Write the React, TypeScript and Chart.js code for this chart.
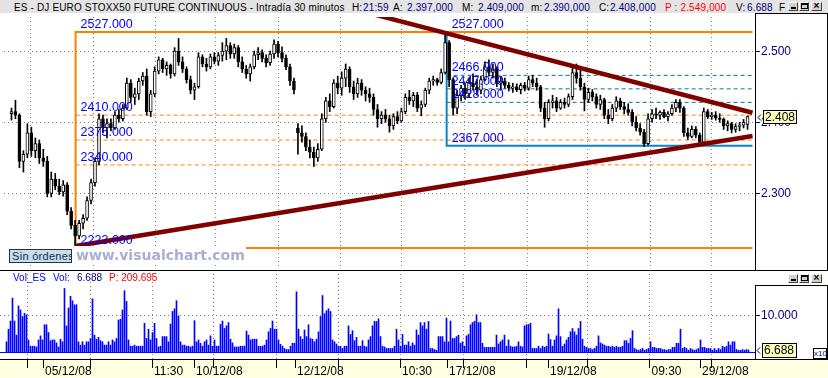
import React, { useEffect, useRef } from "react";
import { Chart, registerables } from "chart.js";

Chart.register(...registerables);

// ---------- DATA ----------
// 30-minute candles (one per two volume bars)
const opens = [
  2412, 2415, 2410, 2345, 2355, 2385, 2360, 2370, 2350, 2345,
  2300, 2320, 2310, 2302, 2312, 2275, 2255, 2240, 2258, 2265,
  2290, 2315, 2345, 2405, 2392, 2398, 2392, 2410, 2405, 2420,
  2455, 2435, 2440, 2458, 2465, 2415, 2440, 2472, 2488, 2475,
  2480, 2468, 2500, 2485, 2475, 2460, 2445, 2450, 2492, 2482,
  2478, 2492, 2486, 2494, 2500, 2508, 2496, 2505, 2485, 2475,
  2468, 2478, 2495, 2498, 2490, 2484, 2496, 2510, 2498, 2490,
  2478, 2458, 2392, 2385, 2380, 2365, 2358, 2350, 2362, 2405,
  2430, 2422, 2455, 2448, 2462, 2475, 2450, 2440, 2455, 2445,
  2440, 2435, 2418, 2405, 2410, 2405, 2395, 2408, 2402, 2415,
  2435, 2430, 2438, 2420, 2425, 2445, 2458, 2460, 2456, 2470,
  2512, 2460, 2420, 2438, 2448, 2440, 2455, 2450, 2445, 2460,
  2478, 2470, 2475, 2455, 2458, 2452, 2448, 2450, 2446, 2452,
  2448, 2460, 2455, 2450, 2420, 2405, 2428, 2430, 2420, 2428,
  2425, 2436, 2470, 2462, 2450, 2432, 2442, 2436, 2425, 2432,
  2410, 2405, 2420, 2430, 2422, 2418, 2414, 2400, 2392, 2386,
  2370, 2405, 2412, 2410, 2414, 2408, 2412, 2420, 2428, 2420,
  2385, 2380, 2390, 2382, 2372, 2415, 2408, 2410, 2406, 2404,
  2395, 2398, 2390, 2394, 2396, 2397,
];
const highs = [
  2420, 2431, 2412, 2360, 2398, 2393, 2378, 2375, 2362, 2352,
  2330, 2328, 2320, 2318, 2315, 2280, 2262, 2262, 2270, 2295,
  2320, 2350, 2412, 2410, 2405, 2405, 2415, 2418, 2425, 2462,
  2460, 2448, 2462, 2470, 2475, 2445, 2478, 2492, 2490, 2485,
  2482, 2505, 2518, 2492, 2478, 2465, 2455, 2498, 2495, 2490,
  2496, 2498, 2498, 2512, 2518, 2512, 2510, 2508, 2492, 2480,
  2482, 2500, 2505, 2502, 2495, 2500, 2516, 2514, 2506, 2495,
  2482, 2462, 2398, 2395, 2385, 2375, 2365, 2370, 2412, 2435,
  2440, 2460, 2465, 2471, 2482, 2478, 2458, 2462, 2460, 2450,
  2448, 2440, 2425, 2415, 2418, 2410, 2412, 2415, 2420, 2440,
  2445, 2442, 2442, 2430, 2448, 2462, 2465, 2462, 2475, 2527,
  2515, 2462, 2445, 2452, 2455, 2462, 2468, 2460, 2465, 2485,
  2488, 2482, 2478, 2465, 2462, 2456, 2455, 2454, 2455, 2456,
  2465, 2466, 2462, 2452, 2428, 2432, 2438, 2435, 2432, 2434,
  2440, 2478, 2482, 2476, 2455, 2448, 2446, 2440, 2438, 2434,
  2418, 2425, 2436, 2434, 2428, 2426, 2418, 2408, 2398, 2390,
  2412, 2418, 2420, 2416, 2418, 2415, 2425, 2432, 2432, 2422,
  2392, 2395, 2394, 2385, 2420, 2418, 2414, 2415, 2412, 2406,
  2402, 2400, 2398, 2400, 2404, 2409,
];
const lows = [
  2403, 2405, 2336, 2330, 2350, 2352, 2350, 2342, 2338, 2295,
  2295, 2305, 2298, 2296, 2270, 2250, 2223, 2236, 2250, 2262,
  2285, 2310, 2340, 2385, 2378, 2388, 2390, 2400, 2402, 2418,
  2428, 2425, 2432, 2452, 2410, 2408, 2436, 2468, 2470, 2466,
  2462, 2465, 2480, 2470, 2455, 2440, 2432, 2448, 2478, 2472,
  2475, 2482, 2480, 2486, 2488, 2490, 2490, 2478, 2470, 2462,
  2458, 2475, 2488, 2485, 2478, 2480, 2490, 2492, 2485, 2474,
  2452, 2440, 2355, 2372, 2360, 2350, 2338, 2345, 2360, 2400,
  2415, 2420, 2440, 2438, 2450, 2442, 2432, 2435, 2438, 2430,
  2428, 2410, 2393, 2398, 2400, 2386, 2390, 2398, 2400, 2412,
  2425, 2422, 2415, 2409, 2422, 2440, 2452, 2452, 2454, 2468,
  2450, 2410, 2412, 2430, 2432, 2435, 2445, 2438, 2440, 2458,
  2465, 2462, 2450, 2445, 2448, 2444, 2442, 2443, 2440, 2444,
  2445, 2450, 2445, 2415, 2393, 2402, 2420, 2415, 2418, 2420,
  2422, 2432, 2455, 2445, 2416, 2428, 2430, 2420, 2418, 2405,
  2398, 2402, 2415, 2418, 2412, 2410, 2395, 2388, 2382, 2366,
  2368, 2400, 2405, 2404, 2406, 2402, 2410, 2415, 2414, 2380,
  2376, 2378, 2378, 2368, 2370, 2405, 2404, 2403, 2400, 2390,
  2388, 2385, 2386, 2388, 2392, 2390,
];
const closes = [
  2415, 2410, 2345, 2355, 2385, 2360, 2370, 2350, 2345, 2300,
  2320, 2310, 2302, 2312, 2275, 2255, 2240, 2258, 2265, 2290,
  2315, 2345, 2405, 2392, 2398, 2392, 2410, 2405, 2420, 2455,
  2435, 2440, 2458, 2465, 2415, 2440, 2472, 2488, 2475, 2480,
  2468, 2500, 2485, 2475, 2460, 2445, 2450, 2492, 2482, 2478,
  2492, 2486, 2494, 2500, 2508, 2496, 2505, 2485, 2475, 2468,
  2478, 2495, 2498, 2490, 2484, 2496, 2510, 2498, 2490, 2478,
  2458, 2446, 2385, 2380, 2365, 2358, 2350, 2362, 2405, 2430,
  2422, 2455, 2448, 2462, 2475, 2450, 2440, 2455, 2445, 2440,
  2435, 2418, 2405, 2410, 2405, 2395, 2408, 2402, 2415, 2435,
  2430, 2438, 2420, 2425, 2445, 2458, 2460, 2456, 2470, 2512,
  2460, 2420, 2438, 2448, 2440, 2455, 2450, 2445, 2460, 2478,
  2470, 2475, 2455, 2458, 2452, 2448, 2450, 2446, 2452, 2448,
  2460, 2455, 2450, 2420, 2405, 2428, 2430, 2420, 2428, 2425,
  2436, 2470, 2462, 2450, 2432, 2442, 2436, 2425, 2432, 2410,
  2405, 2420, 2430, 2422, 2418, 2414, 2400, 2392, 2386, 2370,
  2405, 2412, 2410, 2414, 2408, 2412, 2420, 2428, 2420, 2385,
  2380, 2390, 2382, 2372, 2415, 2408, 2410, 2406, 2404, 2395,
  2398, 2390, 2394, 2396, 2400, 2408,
];
// volume per bar, in units of 10.000 contracts (axis shows x10)
const volumes = [
  2.9, 6.3, 8.5, 14.7, 8.5, 4.7, 12.6, 11.5, 9.7, 10.6,
  10.2, 3.4, 1.7, 1.7, 1.7, 1.5, 3.4, 4.5, 3.4, 7.5,
  7.5, 5.4, 3.2, 3.4, 3.4, 2.6, 1.5, 3.6, 2.9, 17.3,
  7.2, 12.0, 15.2, 14.0, 12.9, 12.9, 2.9, 2.0, 2.9, 2.0,
  2.9, 2.9, 3.8, 14.5, 4.7, 3.6, 4.1, 3.2, 2.9, 2.0,
  2.0, 2.9, 2.0, 3.4, 2.9, 3.8, 8.8, 9.0, 11.5, 16.7,
  13.8, 3.4, 1.7, 1.7, 2.0, 1.7, 1.7, 1.7, 1.7, 7.9,
  3.8, 6.3, 3.4, 5.4, 7.9, 3.8, 1.5, 1.7, 4.3, 4.3,
  4.3, 2.9, 7.7, 11.1, 11.8, 14.0, 9.9, 2.9, 2.0, 2.0,
  1.7, 1.7, 1.5, 1.7, 8.6, 2.9, 3.4, 2.5, 1.7, 2.9,
  3.4, 2.0, 4.5, 1.7, 3.4, 1.7, 1.7, 7.6, 8.5, 6.5,
  7.2, 8.1, 3.6, 2.6, 1.5, 1.5, 1.5, 1.7, 1.7, 1.7,
  5.8, 4.7, 3.4, 3.6, 3.6, 3.6, 1.7, 1.7, 1.7, 2.0,
  3.4, 5.6, 6.5, 8.5, 6.3, 6.3, 3.4, 2.2, 1.7, 1.1,
  0.8, 0.8, 1.7, 2.5, 2.5, 16.4, 6.3, 4.3, 3.6, 6.1,
  4.3, 7.5, 3.8, 3.6, 2.9, 3.6, 5.6, 9.7, 15.4, 10.5,
  11.3, 11.8, 11.1, 3.4, 2.9, 2.3, 1.7, 1.7, 1.1, 1.7,
  1.7, 7.2, 4.9, 5.9, 3.2, 4.1, 1.7, 1.7, 3.2, 1.7,
  1.5, 3.4, 4.3, 7.2, 8.4, 8.4, 9.1, 4.3, 1.7, 1.5,
  1.1, 1.1, 1.1, 1.1, 1.7, 6.3, 3.4, 1.7, 4.9, 2.0,
  2.0, 2.9, 1.7, 2.6, 2.0, 6.1, 4.7, 8.1, 7.2, 8.1,
  6.3, 8.4, 1.1, 1.1, 0.8, 0.6, 4.3, 4.3, 4.3, 2.9,
  9.3, 2.9, 8.5, 3.8, 3.8, 4.3, 4.7, 2.5, 2.9, 1.7,
  4.5, 4.9, 7.5, 8.1, 8.4, 10.2, 8.1, 8.1, 2.5, 1.4,
  1.4, 1.4, 1.4, 1.4, 1.4, 4.7, 2.3, 2.9, 3.4, 4.7,
  1.7, 3.4, 1.7, 1.5, 1.5, 1.7, 2.9, 1.7, 1.5, 7.2,
  7.5, 7.6, 7.9, 1.1, 1.1, 1.1, 1.7, 1.1, 1.7, 1.4,
  1.7, 5.0, 3.5, 1.7, 3.4, 4.5, 11.8, 4.3, 1.7, 2.3,
  3.4, 4.1, 5.6, 6.5, 5.6, 4.7, 6.5, 8.4, 3.6, 1.7,
  1.4, 1.1, 1.1, 0.8, 1.1, 1.7, 4.5, 2.6, 2.3, 2.0,
  1.7, 1.7, 1.5, 1.7, 1.4, 1.7, 1.4, 1.4, 1.7, 3.2,
  3.2, 2.5, 3.8, 5.9, 1.1, 0.8, 0.6, 0.8, 1.1, 0.6,
  0.8, 1.1, 2.9, 1.4, 1.4, 1.1, 1.1, 1.1, 0.8, 0.8,
  0.6, 0.8, 0.8, 1.4, 1.4, 2.5, 2.5, 6.3, 1.1, 1.4,
  1.1, 0.6, 1.1, 0.8, 0.6, 0.8, 1.1, 3.4, 1.4, 1.4,
  1.1, 1.1, 1.1, 0.6, 1.1, 0.6, 1.1, 0.8, 1.7, 1.4,
  1.7, 2.9, 2.0, 2.9, 2.9, 0.8, 0.6, 0.6, 0.8, 0.6,
  0.8, 0.6688,
];

const priceTicks = [2300, 2400, 2500];
const volumeTicks = [10];
// x positions in bar-index units
const gridJ = [10.25, 41.75, 72.75, 103.25, 134.75, 165.75, 196.75, 228.25, 259.75, 290.25, 321.5, 352.5];
const daySepJ = [18.25, 93.75, 144.25, 220.25, 270.75, 346.75];
const xLabelJ = [18.25, 72.75, 93.75, 144.25, 196.75, 220.25, 270.75, 321.5, 346.75];
const xLabels = ["05/12/08", "11:30", "10/12/08", "12/12/08", "10:30", "17/12/08", "19/12/08", "09:30", "29/12/08"];

// drawing objects (Fibonacci boxes, trend lines)
const orangeBoxJ = [32.75, 373];
const orangeLevels = [2527, 2410, 2375, 2340, 2223];
const tealBoxJ = [219.25, 373];
const tealLevels = [2527, 2466, 2447, 2428, 2367];
const trendLowJ = [32.75, 373];
const trendLowV = [2226, 2380.7];
const trendHighJ = [180, 373];
const trendHighV = [2553.7, 2413.4];
const markerJ = [0.25, 32.75];
const markerV = [2207, 2223];

const X_MIN = -3.25;
const X_MAX = 374.25;
const P_MIN = 2197.8;
const P_MAX = 2548.1;
const V_MIN = -1.757;
const V_MAX = 22.297;

// ---------- STYLE ----------
const SANS = "'Liberation Sans', Arial, Helvetica, sans-serif";
const LABEL_FONT = "12.5px 'Liberation Sans Narrow', 'Liberation Sans', sans-serif";
const NAVY = "#000080";
const GRAY = "#808080";
const ORANGE = "#ff8000";
const TEAL = "#0a84c6";
const TEAL_DASH = "#1070a0";
const DARK_RED = "#800000";

function lineSet(pts: any[], color: string, width: number, dash: number[], order: number) {
  return {
    type: "line",
    data: pts,
    borderColor: color,
    borderWidth: width,
    borderDash: dash,
    borderCapStyle: "butt",
    pointRadius: 0,
    pointHoverRadius: 0,
    fill: false,
    tension: 0,
    order,
  };
}

const pricePlugin = {
  id: "priceDecor",
  afterDatasetsDraw(chart: any) {
    const { ctx } = chart;
    const xs = chart.scales.x;
    const ys = chart.scales.y;
    ctx.save();
    // watermark
    ctx.fillStyle = "#ffffff";
    ctx.fillRect(74, 233, 172, 17);
    ctx.font = "bold 14px 'DejaVu Sans', Verdana, sans-serif";
    ctx.fillStyle = "#a9aed6";
    ctx.textAlign = "left";
    ctx.textBaseline = "alphabetic";
    ctx.fillText("www.visualchart.com", 76, 247);
    // level labels
    ctx.font = LABEL_FONT;
    ctx.fillStyle = "#0000ff";
    const ox = xs.getPixelForValue(orangeBoxJ[0]) + 5;
    orangeLevels.forEach((v) => ctx.fillText(v.toFixed(3), ox, ys.getPixelForValue(v) - 4));
    const tx = xs.getPixelForValue(tealBoxJ[0]) + 5;
    tealLevels.forEach((v) => ctx.fillText(v.toFixed(3), tx, ys.getPixelForValue(v) - 4));
    ctx.restore();
  },
  afterDraw(chart: any) {
    const { ctx, chartArea } = chart;
    const ys = chart.scales.y;
    const r = chartArea.right;
    ctx.save();
    ctx.strokeStyle = "#000";
    ctx.lineWidth = 1;
    ctx.beginPath();
    ctx.moveTo(r + 0.5, 0);
    ctx.lineTo(r + 0.5, chart.height);
    ctx.moveTo(r, 0.5);
    ctx.lineTo(chart.width, 0.5);
    ctx.moveTo(chart.width - 0.5, 0);
    ctx.lineTo(chart.width - 0.5, chart.height);
    ctx.stroke();
    // last price tag
    const last = closes[closes.length - 1];
    const yv = Math.round(ys.getPixelForValue(last));
    const bx = r + 8, bw = 34, bh = 14;
    const by = yv - 7;
    ctx.fillStyle = "#ffffc0";
    ctx.fillRect(bx, by, bw, bh);
    ctx.strokeRect(bx + 0.5, by + 0.5, bw - 1, bh - 1);
    ctx.fillStyle = "#000";
    ctx.font = "12px " + SANS;
    ctx.textAlign = "left";
    ctx.textBaseline = "middle";
    ctx.fillText((last / 1000).toFixed(3), bx + 2, yv + 0.5);
    ctx.beginPath();
    ctx.moveTo(r + 6, yv - 2.5);
    ctx.lineTo(r + 3, yv + 0.5);
    ctx.lineTo(r + 6, yv + 3.5);
    ctx.stroke();
    ctx.restore();
  },
};

const volumePlugin = {
  id: "volDecor",
  beforeDraw(chart: any) {
    const { ctx, chartArea } = chart;
    ctx.save();
    ctx.fillStyle = "#ffffe1";
    ctx.fillRect(0, chartArea.bottom, chart.width, chart.height - chartArea.bottom);
    ctx.restore();
  },
  afterDraw(chart: any) {
    const { ctx, chartArea } = chart;
    const ys = chart.scales.y;
    const r = chartArea.right;
    const b = chartArea.bottom;
    ctx.save();
    ctx.strokeStyle = "#000";
    ctx.lineWidth = 1;
    ctx.beginPath();
    ctx.moveTo(0, 0.5);
    ctx.lineTo(chart.width, 0.5);
    ctx.moveTo(0, b + 0.5);
    ctx.lineTo(chart.width, b + 0.5);
    ctx.moveTo(r + 0.5, 15);
    ctx.lineTo(r + 0.5, b);
    ctx.moveTo(r, 15.5);
    ctx.lineTo(chart.width, 15.5);
    ctx.moveTo(chart.width - 0.5, 15);
    ctx.lineTo(chart.width - 0.5, b);
    ctx.stroke();
    const last = volumes[volumes.length - 1];
    const yv = Math.round(ys.getPixelForValue(last));
    const bx = r + 7, bw = 35, bh = 15;
    const by = yv - 7;
    ctx.fillStyle = "#ffffc0";
    ctx.fillRect(bx, by, bw, bh);
    ctx.strokeRect(bx + 0.5, by + 0.5, bw - 1, bh - 1);
    ctx.fillStyle = "#000";
    ctx.font = "12px " + SANS;
    ctx.textAlign = "left";
    ctx.textBaseline = "middle";
    ctx.fillText((last * 10).toFixed(3), bx + 2, yv + 1);
    ctx.beginPath();
    ctx.moveTo(r + 5, yv - 2.5);
    ctx.lineTo(r + 2, yv + 0.5);
    ctx.lineTo(r + 5, yv + 3.5);
    ctx.stroke();
    ctx.restore();
  },
};

function noPad(s: any) {
  s.paddingTop = 0;
  s.paddingBottom = 0;
  s.paddingLeft = 0;
  s.paddingRight = 0;
}

function buildPriceConfig() {
  const ds: any[] = [];
  ds.push({
    type: "line",
    data: markerJ.map((x, i) => ({ x, y: markerV[i] })),
    showLine: false,
    pointStyle: "rect",
    pointRadius: 2.5,
    pointBackgroundColor: DARK_RED,
    pointBorderWidth: 0,
    order: 0,
  });
  ds.push(lineSet(trendLowJ.map((x, i) => ({ x, y: trendLowV[i] })), DARK_RED, 4.5, [], 1));
  ds.push(lineSet(trendHighJ.map((x, i) => ({ x, y: trendHighV[i] })), DARK_RED, 4.5, [], 1));
  ds.push({
    type: "bar",
    data: opens.map((o, k) => ({ x: 2 * k + 0.5, y: [o, closes[k]] })),
    backgroundColor: opens.map((o, k) => (closes[k] >= o ? "#ffffff" : "#000000")),
    borderColor: "#000",
    borderWidth: 1,
    borderSkipped: false,
    barThickness: 3,
    grouped: false,
    minBarLength: 1,
    order: 2,
  });
  ds.push({
    type: "bar",
    data: lows.map((l, k) => ({ x: 2 * k + 0.5, y: [l, highs[k]] })),
    backgroundColor: "#000",
    barThickness: 1,
    grouped: false,
    order: 3,
  });
  const tTop = tealLevels[0];
  const tBot = tealLevels[tealLevels.length - 1];
  ds.push(lineSet([
    { x: tealBoxJ[0], y: tTop },
    { x: tealBoxJ[0], y: tBot },
    { x: tealBoxJ[1], y: tBot },
  ], TEAL, 2, [], 4));
  tealLevels.slice(1, 4).forEach((v) => {
    ds.push(lineSet([{ x: tealBoxJ[0], y: v }, { x: tealBoxJ[1], y: v }], TEAL_DASH, 1, [4, 3], 4));
  });
  const oTop = orangeLevels[0];
  const oBot = orangeLevels[orangeLevels.length - 1];
  ds.push(lineSet([
    { x: orangeBoxJ[1], y: oTop },
    { x: orangeBoxJ[0], y: oTop },
    { x: orangeBoxJ[0], y: oBot },
    { x: orangeBoxJ[1], y: oBot },
  ], ORANGE, 2, [], 5));
  orangeLevels.slice(1, 4).forEach((v) => {
    ds.push(lineSet([{ x: orangeBoxJ[0], y: v }, { x: orangeBoxJ[1], y: v }], ORANGE, 1, [4, 3], 5));
  });

  return {
    type: "bar",
    data: { datasets: ds },
    options: {
      responsive: false,
      maintainAspectRatio: false,
      animation: false,
      devicePixelRatio: 1,
      events: [],
      layout: { padding: 0 },
      plugins: { legend: { display: false }, tooltip: { enabled: false } },
      scales: {
        x: {
          type: "linear",
          min: X_MIN,
          max: X_MAX,
          offset: false,
          afterBuildTicks: (s: any) => { s.ticks = gridJ.map((value) => ({ value })); },
          afterFit: (s: any) => { s.height = 0; noPad(s); },
          ticks: { display: false },
          grid: { color: GRAY, drawTicks: false, offset: false, lineWidth: 1 },
          border: { display: false, dash: [1, 3] },
        },
        y: {
          type: "linear",
          position: "right",
          min: P_MIN,
          max: P_MAX,
          beginAtZero: false,
          afterBuildTicks: (s: any) => { s.ticks = priceTicks.map((value) => ({ value })); },
          afterFit: (s: any) => { s.width = 73; noPad(s); },
          ticks: {
            color: NAVY,
            padding: 1,
            font: { family: SANS, size: 12 },
            callback: (v: any) => (Number(v) / 1000).toFixed(3),
          },
          grid: { color: GRAY, tickColor: NAVY, tickLength: 5, lineWidth: 1 },
          border: { display: false, dash: [1, 3] },
        },
      },
    },
    plugins: [pricePlugin],
  };
}

function buildVolumeConfig() {
  const allTicks = [...gridJ, ...daySepJ].sort((a, b) => a - b);
  const gridSet = new Set(gridJ);
  const labelMap = new Map<number, string>();
  xLabelJ.forEach((v, i) => labelMap.set(v, xLabels[i]));
  return {
    type: "bar",
    data: {
      datasets: [
        lineSet([{ x: X_MIN, y: 0 }, { x: X_MAX, y: 0 }], "#0000ff", 1, [], 1),
        {
          type: "bar",
          data: volumes.map((v, j) => ({ x: j, y: v })),
          backgroundColor: "#0000ff",
          barThickness: 1,
          grouped: false,
          order: 2,
        },
      ],
    },
    options: {
      responsive: false,
      maintainAspectRatio: false,
      animation: false,
      devicePixelRatio: 1,
      events: [],
      layout: { padding: 0 },
      plugins: { legend: { display: false }, tooltip: { enabled: false } },
      scales: {
        x: {
          type: "linear",
          min: X_MIN,
          max: X_MAX,
          offset: false,
          afterBuildTicks: (s: any) => { s.ticks = allTicks.map((value) => ({ value })); },
          afterFit: (s: any) => { s.height = 19; noPad(s); },
          ticks: {
            display: true,
            autoSkip: false,
            maxRotation: 0,
            minRotation: 0,
            align: "start",
            labelOffset: 2,
            padding: -4,
            color: "#000",
            font: { family: SANS, size: 12 },
            callback: (v: any) => labelMap.get(Number(v)) ?? "",
          },
          grid: {
            color: (c: any) => (c.tick && gridSet.has(c.tick.value) ? GRAY : "rgba(0,0,0,0)"),
            tickColor: "#000",
            tickLength: 9,
            drawTicks: true,
            offset: false,
            lineWidth: 1,
          },
          border: { display: false, dash: [1, 3] },
        },
        y: {
          type: "linear",
          position: "right",
          min: V_MIN,
          max: V_MAX,
          beginAtZero: false,
          afterBuildTicks: (s: any) => { s.ticks = volumeTicks.map((value) => ({ value })); },
          afterFit: (s: any) => { s.width = 73; noPad(s); },
          ticks: {
            color: NAVY,
            padding: 1,
            font: { family: SANS, size: 12 },
            callback: (v: any) => Number(v).toFixed(3),
          },
          grid: { color: GRAY, tickColor: NAVY, tickLength: 5, lineWidth: 1 },
          border: { display: false, dash: [1, 3] },
        },
      },
    },
    plugins: [volumePlugin],
  };
}

const titleParts = [
  { x: 14, t: "ES - DJ EURO STOXX50 FUTURE CONTINUOUS - Intradía 30 minutos", c: "#000" },
  { x: 352, t: "H:", c: "#000" },
  { x: 363, t: "21:59", c: NAVY },
  { x: 393, t: "A:", c: "#000" },
  { x: 407, t: "2.397,000", c: NAVY },
  { x: 462, t: "M:", c: "#000" },
  { x: 478, t: "2.409,000", c: NAVY },
  { x: 531, t: "m:", c: "#000" },
  { x: 544, t: "2.390,000", c: NAVY },
  { x: 599, t: "C:", c: "#000" },
  { x: 610, t: "2.408,000", c: NAVY },
  { x: 665, t: "P : 2.549,000", c: "#ff0000" },
  { x: 736, t: "V:", c: "#000" },
  { x: 747, t: "6.688", c: NAVY },
  { x: 779, t: "F", c: "#000" },
];

const volTitleParts = [
  { x: 13, t: "Vol_ES", c: "#0000ff" },
  { x: 53, t: "Vol:", c: "#0000ff" },
  { x: 77, t: "6.688", c: NAVY },
  { x: 109, t: "P: 209.695", c: "#ff0000" },
];

function WinButtons({ top }: { top: number }) {
  const base: any = {
    position: "absolute",
    top,
    width: 10,
    height: 9,
    boxSizing: "border-box",
    background: "#d4d0c8",
    borderTop: "1px solid #ffffff",
    borderLeft: "1px solid #ffffff",
    borderRight: "1px solid #404040",
    borderBottom: "1px solid #404040",
  };
  return (
    <>
      <div style={{ ...base, left: 788 }}>
        <div style={{ position: "absolute", left: 2, top: 4, width: 5, height: 2, background: "#000" }} />
      </div>
      <div style={{ ...base, left: 799 }}>
        <div style={{ position: "absolute", left: 1, top: 0, width: 7, height: 6, boxSizing: "border-box", border: "1px solid #000", borderTopWidth: 2 }} />
      </div>
      <div style={{ ...base, left: 811, width: 11 }}>
        <div style={{ position: "absolute", left: 0, top: -3, width: 9, textAlign: "center", fontSize: 10, fontWeight: "bold", lineHeight: "12px", color: "#000", fontFamily: SANS }}>×</div>
      </div>
    </>
  );
}

export default function App() {
  const priceRef = useRef<HTMLCanvasElement | null>(null);
  const volRef = useRef<HTMLCanvasElement | null>(null);

  useEffect(() => {
    Chart.defaults.font.family = SANS;
    const pc = new Chart(priceRef.current as HTMLCanvasElement, buildPriceConfig() as any);
    const vc = new Chart(volRef.current as HTMLCanvasElement, buildVolumeConfig() as any);
    return () => {
      pc.destroy();
      vc.destroy();
    };
  }, []);

  return (
    <div
      style={{
        position: "absolute",
        left: 0,
        top: 0,
        width: 828,
        height: 378,
        overflow: "hidden",
        background: "#ffffff",
        fontFamily: SANS,
      }}
    >
      <div style={{ position: "absolute", left: 0, top: 0, width: 828, height: 13, background: "#e4e4e4" }} />
      {titleParts.map((p, i) => (
        <span
          key={i}
          style={{ position: "absolute", left: p.x, top: 1, fontSize: 10, letterSpacing: "0.15px", lineHeight: "13px", color: p.c, whiteSpace: "pre" }}
        >
          {p.t}
        </span>
      ))}
      <WinButtons top={2} />
      <canvas
        ref={priceRef}
        width={828}
        height={257}
        style={{ position: "absolute", left: 0, top: 13, width: 828, height: 257 }}
      />
      <canvas
        ref={volRef}
        width={828}
        height={108}
        style={{ position: "absolute", left: 0, top: 270, width: 828, height: 108 }}
      />
      {volTitleParts.map((p, i) => (
        <span
          key={i}
          style={{ position: "absolute", left: p.x, top: 271, fontSize: 10, lineHeight: "13px", color: p.c, whiteSpace: "pre" }}
        >
          {p.t}
        </span>
      ))}
      <WinButtons top={274} />
      <div
        style={{
          position: "absolute",
          left: 9,
          top: 249,
          width: 63,
          height: 14,
          boxSizing: "border-box",
          border: "1px solid #1a3a4a",
          background: "#c8dcee",
          color: "#0b3344",
          fontSize: 11,
          letterSpacing: "0.3px",
          lineHeight: "12px",
          paddingLeft: 2,
          whiteSpace: "pre",
          overflow: "hidden",
        }}
      >
        Sin órdenes
      </div>
      <div
        style={{
          position: "absolute",
          left: 813,
          top: 348,
          width: 14,
          height: 11,
          boxSizing: "border-box",
          border: "1px solid #000",
          background: "#fff",
          color: NAVY,
          fontSize: 8,
          lineHeight: "9px",
          textAlign: "center",
        }}
      >
        x10
      </div>
    </div>
  );
}
